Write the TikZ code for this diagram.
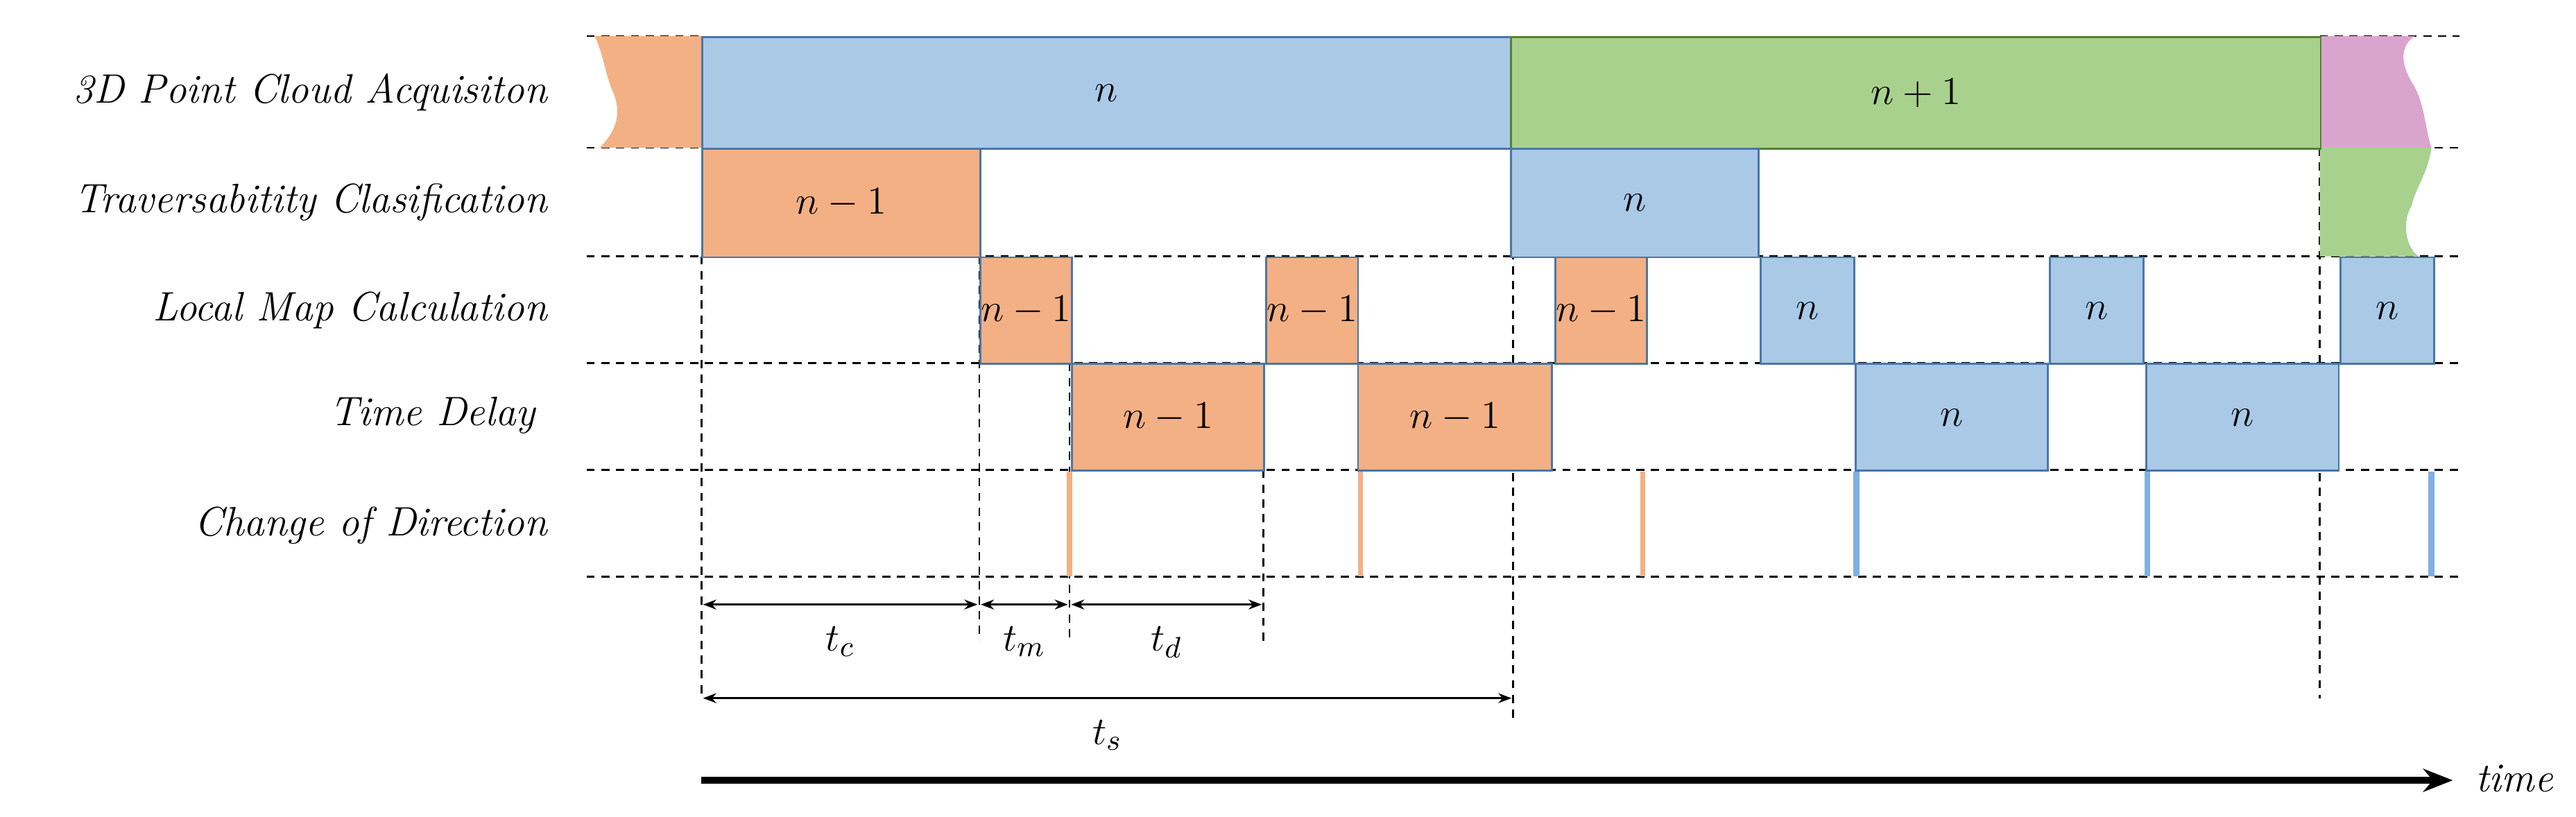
\documentclass[tikz,border=0pt]{standalone}
\usetikzlibrary{arrows.meta}
\begin{document}
\definecolor{bfill}{HTML}{A9C9E7}
\definecolor{bline}{HTML}{4A76A8}
\definecolor{ofill}{HTML}{F3B084}
\definecolor{gfill}{HTML}{A9D18E}
\definecolor{gline}{HTML}{548235}
\definecolor{pfill}{HTML}{D9A5CF}
\definecolor{bbar}{HTML}{7EB0E0}
\begin{tikzpicture}[x={(0.5pt,0)},y={(0,-0.5pt)},
  font=\fontsize{12.5}{14}\selectfont,
  box/.style={draw=bline,line width=0.6pt,anchor=north west,inner sep=0pt,minimum height=32.5pt},
  ob/.style={box,fill=ofill},
  bb/.style={box,fill=bfill},
  gb/.style={box,fill=gfill,draw=gline},
  dl/.style={densely dashed,line width=0.5pt,dash pattern=on 2.5pt off 2pt},
  lbl/.style={anchor=east,font=\fontsize{12.5}{14}\selectfont\itshape},
  dim/.style={{Stealth[length=4pt]}-{Stealth[length=4pt]},line width=0.6pt},
  obar/.style={draw=ofill,line width=1.5pt},
  bbarl/.style={draw=bbar,line width=1.8pt}]
\useasboundingbox (0,0) rectangle (1568,497);
% horizontal dashed
\draw[dl] (357,22) -- (427,22);
\draw[dl] (1412,22) -- (1497,22);
\foreach \yy in {90,156,221,286,351} \draw[dl] (357,\yy) -- (1497,\yy);
% vertical dashed
\draw[dl] (427,156) -- (427,425);
\draw[dl] (596,156) -- (596,390);
\draw[dl] (651,221) -- (651,390);
\draw[dl] (769,286) -- (769,390);
\draw[dl] (921,90) -- (921,440);
\draw[dl] (1412,90) -- (1412,425);
% wavy pieces
\fill[ofill] (362,22) -- (427,22) -- (427,90) -- (365,90) .. controls (375,80) and (378,70) .. (374,58) .. controls (368,45) and (368,35) .. (362,22) -- cycle;
\fill[pfill] (1412,22) -- (1470,22) .. controls (1460,28) and (1462,40) .. (1468,50) .. controls (1476,62) and (1476,78) .. (1480,90) -- (1412,90) -- cycle;
\fill[gfill] (1412,90) -- (1480,90) .. controls (1478,105) and (1470,115) .. (1468,125) .. controls (1462,135) and (1464,150) .. (1472,156) -- (1412,156) -- cycle;
% row 1
\node[bb,minimum width=246pt,minimum height=34pt] (a1) at (427,22) {$n$};
\node[gb,minimum width=246.5pt,minimum height=34pt] (a2) at (919,22) {$n+1$};
% row 2
\node[ob,minimum width=84.5pt,minimum height=33pt] (b1) at (427,90) {$n-1$};
\node[bb,minimum width=75.5pt,minimum height=33pt] (b2) at (919,90) {$n$};
% row 3
\node[ob,minimum width=28pt] (c1) at (596,156) {$n-1$};
\node[ob,minimum width=28pt] (c2) at (770,156) {$n-1$};
\node[ob,minimum width=28pt] (c3) at (946,156) {$n-1$};
\node[bb,minimum width=28.5pt] (c4) at (1071,156) {$n$};
\node[bb,minimum width=28.5pt] (c5) at (1247,156) {$n$};
\node[bb,minimum width=28.5pt] (c6) at (1424,156) {$n$};
% row 4
\node[ob,minimum width=58.5pt] (d1) at (652,221) {$n-1$};
\node[ob,minimum width=59pt] (d2) at (826,221) {$n-1$};
\node[bb,minimum width=58.5pt] (d3) at (1129,221) {$n$};
\node[bb,minimum width=58.5pt] (d4) at (1306,221) {$n$};
% row 5 bars
\draw[obar] (651,287) -- (651,351);
\draw[obar] (828,287) -- (828,351);
\draw[obar] (1000,287) -- (1000,351);
\draw[bbarl] (1130,287) -- (1130,351);
\draw[bbarl] (1307,287) -- (1307,351);
\draw[bbarl] (1480,287) -- (1480,351);
% labels
\node[lbl] (l1) at (340,56) {3D Point Cloud Acquisiton};
\node[lbl] (l2) at (340,123) {Traversabitity Clasification};
\node[lbl] (l3) at (340,189) {Local Map Calculation};
\node[lbl] (l4) at (333,253) {Time Delay};
\node[lbl] (l5) at (340,320) {Change of Direction};
% dimensions
\coordinate (p0) at (428,368); \coordinate (p1) at (595,368);
\coordinate (p2) at (597,368); \coordinate (p3) at (650,368);
\coordinate (p4) at (652,368); \coordinate (p5) at (768,368);
\coordinate (q0) at (428,425); \coordinate (q1) at (920,425);
\draw[dim] (p0) -- (p1) node[midway,below=3pt] (tc) {$t_c$};
\draw[dim] (p2) -- (p3) node[midway,below=3pt] (tm) {$t_m$};
\draw[dim] (p4) -- (p5) node[midway,below=3pt] (td) {$t_d$};
\draw[dim] (q0) -- (q1) node[midway,below=3pt] (ts) {$t_s$};
% time axis
\coordinate (t0) at (427,475); \coordinate (t1) at (1493,475);
\draw[line width=2pt,-{Stealth[length=9pt,width=7pt]}] (t0) -- (t1);
\node[lbl,anchor=west] (tl) at (1500,474) {time};
\end{tikzpicture}
\end{document}
